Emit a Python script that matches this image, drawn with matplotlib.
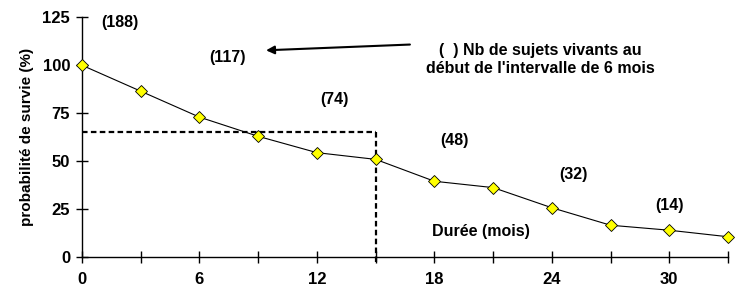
import matplotlib
matplotlib.use("Agg")
import matplotlib.pyplot as plt
from matplotlib.ticker import MultipleLocator

# survival curve (months, %)
months = [0, 3, 6, 9, 12, 15, 18, 21, 24, 27, 30, 33]
survival = [100, 86.5, 73, 63, 54.5, 51, 39.6, 36.3, 25.8, 16.7, 14.1, 10.7]

# number at risk labels
risk_labels = ["(188)", "(117)", "(74)", "(48)", "(32)", "(14)"]
risk_x = [1.95, 7.45, 12.9, 19.0, 25.1, 30.0]
risk_y = [122.5, 104, 82, 61, 43, 27]

median_month = 15
median_level = 65

plt.rcParams["font.family"] = ["Liberation Sans", "DejaVu Sans"]
plt.rcParams["font.weight"] = "bold"

fig = plt.figure(figsize=(7.35, 2.88), dpi=100)
ax = fig.add_axes([0.1116, 0.1066, 0.8789, 0.8334])

ax.plot(months, survival, color="black", linewidth=0.8, marker="D",
        markersize=5.8, markerfacecolor="#ffff00", markeredgecolor="black",
        markeredgewidth=0.6, clip_on=False, zorder=4)

# median guide lines
ax.plot([0, median_month], [median_level, median_level], color="black",
        linestyle=(0, (2.5, 1.5)), linewidth=1.6, clip_on=False, zorder=3)
ax.plot([median_month, median_month], [-2.5, median_level], color="black",
        linestyle=(0, (2.5, 1.5)), linewidth=1.6, clip_on=False, zorder=3)

for lbl, x, y in zip(risk_labels, risk_x, risk_y):
    ax.text(x, y, lbl, ha="center", va="center", fontsize=11.5, fontweight="bold")

ax.annotate("", xy=(9.4, 107.8), xytext=(16.75, 110.8),
            arrowprops=dict(arrowstyle="-|>", color="black", lw=1.5,
                            mutation_scale=12, shrinkA=0, shrinkB=0))
ax.text(23.4, 103, "(  ) Nb de sujets vivants au\ndébut de l'intervalle de 6 mois",
        ha="center", va="center", fontsize=11.5, fontweight="bold", linespacing=1.25)
ax.text(20.4, 13.2, "Durée (mois)", ha="center", va="center",
        fontsize=11.5, fontweight="bold")

ax.set_xlim(0, 33)
ax.set_ylim(0, 125)
ax.xaxis.set_major_locator(MultipleLocator(6))
ax.xaxis.set_minor_locator(MultipleLocator(3))
ax.yaxis.set_major_locator(MultipleLocator(25))
ax.tick_params(axis="both", which="both", direction="inout", length=9,
               width=1, labelsize=12)
ax.tick_params(axis="x", which="major", pad=6)
ax.tick_params(axis="y", which="major", pad=4)
for s in ["top", "right"]:
    ax.spines[s].set_visible(False)
for s in ["left", "bottom"]:
    ax.spines[s].set_linewidth(1)
for lbl in ax.get_xticklabels() + ax.get_yticklabels():
    lbl.set_fontweight("bold")

ax.set_ylabel("probabilité de survie (%)", fontsize=11, fontweight="bold",
              labelpad=6)

fig.savefig("out.png", dpi=100)
